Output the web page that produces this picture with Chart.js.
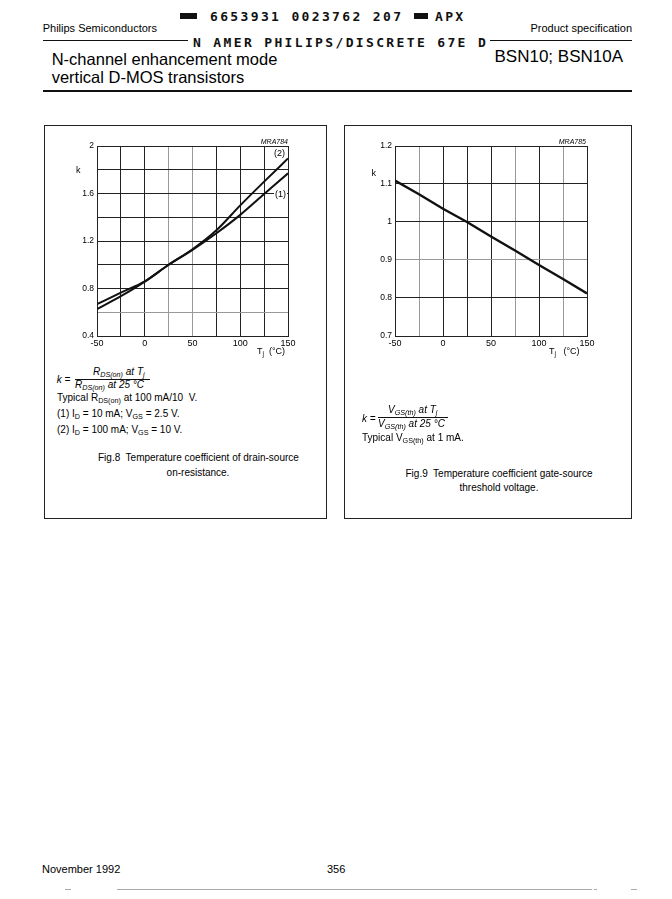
<!DOCTYPE html>
<html>
<head>
<meta charset="utf-8">
<script src="https://cdn.jsdelivr.net/npm/chart.js@4/dist/chart.umd.min.js"></script>
<style>
  body { margin: 0; background: #fff; }
  #page { position: relative; width: 672px; height: 899px; overflow: hidden; font-family: "Liberation Sans", Arial, sans-serif; color: #000; }
  .t { position: absolute; white-space: nowrap; line-height: 1; font-size: 10px; }
  .mono { font-family: "DejaVu Sans Mono", monospace; font-size: 13px; font-weight: bold; letter-spacing: 2.35px; color: #111; }
  .rule { position: absolute; background: #111; }
  .sq { position: absolute; background: #111; }
  .box { position: absolute; border: 1.5px solid #222; box-sizing: border-box; }
  .it { font-style: italic; }
  .c { text-align: center; }
  sub { font-size: 0.72em; line-height: 0; vertical-align: -0.28em; }
  canvas { position: absolute; }
</style>
</head>
<body>
<div id="page">
  <!-- header -->
  <div class="sq" style="left:180px;top:12.7px;width:17px;height:6px"></div>
  <div class="t mono" style="left:210px;top:9.5px">6653931 0023762 207</div>
  <div class="sq" style="left:414px;top:12.7px;width:14px;height:6px"></div>
  <div class="t mono" style="left:435px;top:9.5px">APX</div>
  <div class="t" style="left:42.7px;top:22.6px;font-size:11px">Philips Semiconductors</div>
  <div class="t" style="right:40px;top:22.6px;font-size:11px">Product specification</div>
  <div class="rule" style="left:42.7px;top:40.2px;width:145px;height:1.2px"></div>
  <div class="t mono" style="left:193px;top:35.7px">N AMER PHILIPS/DISCRETE 67E D</div>
  <div class="rule" style="left:490px;top:40.2px;width:142px;height:1.2px"></div>
  <div class="t" style="left:51.7px;top:51px;font-size:16.5px">N-channel enhancement mode</div>
  <div class="t" style="left:51.7px;top:69px;font-size:16.5px">vertical D-MOS transistors</div>
  <div class="t" style="right:49px;top:47.5px;font-size:17px">BSN10; BSN10A</div>
  <div class="rule" style="left:42.7px;top:89.7px;width:589.3px;height:2px"></div>

  <!-- left figure -->
  <div class="box" style="left:44px;top:125px;width:283px;height:394px"></div>
  <canvas id="fig8" width="260" height="230" style="left:50px;top:130px;width:260px;height:230px"></canvas>
  <div class="t it" style="right:384px;top:137.5px;font-size:7px">MRA784</div>
  <div class="t" style="left:76px;top:165.5px;font-size:9px">k</div>
  <div class="t" style="left:273px;top:148.5px;font-size:9px;background:#fff;padding:0 1px">(2)</div>
  <div class="t" style="left:274px;top:189.5px;font-size:9px;background:#fff;padding:0 1px">(1)</div>
  <div class="t" style="left:257px;top:346.5px;font-size:9px">T<sub>j</sub>&nbsp; (°C)</div>

  <div class="t it" style="left:56.7px;top:374.5px">k =</div>
  <div class="t it" style="left:93px;top:367px">R<sub>DS(on)</sub> at T<sub>j</sub></div>
  <div class="rule" style="left:75px;top:378.7px;width:75px;height:0.9px"></div>
  <div class="t it" style="left:75px;top:379.8px">R<sub>DS(on)</sub> at 25 °C</div>
  <div class="t" style="left:57px;top:392.5px">Typical R<sub>DS(on)</sub> at 100 mA/10&nbsp; V.</div>
  <div class="t" style="left:57px;top:409px">(1) I<sub>D</sub> = 10 mA; V<sub>GS</sub> = 2.5 V.</div>
  <div class="t" style="left:57px;top:425px">(2) I<sub>D</sub> = 100 mA; V<sub>GS</sub> = 10 V.</div>
  <div class="t c" style="left:98px;width:200px;top:452.5px">Fig.8&nbsp; Temperature coefficient of drain-source</div>
  <div class="t c" style="left:98px;width:200px;top:467.5px">on-resistance.</div>

  <!-- right figure -->
  <div class="box" style="left:344px;top:125px;width:288px;height:394px"></div>
  <canvas id="fig9" width="260" height="230" style="left:350px;top:130px;width:260px;height:230px"></canvas>
  <div class="t it" style="right:86px;top:137.5px;font-size:7px">MRA785</div>
  <div class="t" style="left:371.5px;top:168.5px;font-size:9px">k</div>
  <div class="t" style="left:549px;top:347px;font-size:9px">T<sub>j</sub>&nbsp;&nbsp; (°C)</div>

  <div class="t it" style="left:362px;top:413.5px">k =</div>
  <div class="t it" style="left:388px;top:405px">V<sub>GS(th)</sub> at T<sub>j</sub></div>
  <div class="rule" style="left:378px;top:417.2px;width:70px;height:0.9px"></div>
  <div class="t it" style="left:378px;top:419px">V<sub>GS(th)</sub> at 25 °C</div>
  <div class="t" style="left:362px;top:433px">Typical V<sub>GS(th)</sub> at 1 mA.</div>
  <div class="t c" style="left:399px;width:200px;top:468.5px">Fig.9&nbsp; Temperature coefficient gate-source</div>
  <div class="t c" style="left:399px;width:200px;top:482.5px">threshold voltage.</div>

  <!-- footer -->
  <div class="t" style="left:42px;top:863.6px;font-size:11px">November 1992</div>
  <div class="t" style="left:327px;top:863.6px;font-size:11px">356</div>
  <div class="rule" style="left:117px;top:889px;width:475px;height:1px;background:#aaa"></div>
  <div class="rule" style="left:65px;top:889px;width:6px;height:1px;background:#aaa"></div>
  <div class="rule" style="left:594px;top:889px;width:3px;height:1px;background:#aaa"></div>
  <div class="rule" style="left:631px;top:889px;width:6px;height:1px;background:#aaa"></div>
</div>

<script>
// junction temperature, deg C
const temps = [-50, -25, 0, 25, 50, 75, 100, 125, 150];
// Fig.8: k = RDS(on) at Tj / RDS(on) at 25 C
const kRds1 = [0.668, 0.765, 0.86, 1.0, 1.125, 1.265, 1.42, 1.595, 1.77]; // (1) ID = 10 mA; VGS = 2.5 V
const kRds2 = [0.626, 0.735, 0.858, 1.0, 1.13, 1.29, 1.5, 1.7, 1.895];   // (2) ID = 100 mA; VGS = 10 V
// Fig.9: k = VGS(th) at Tj / VGS(th) at 25 C
const kVgs = [1.109, 1.073, 1.035, 1.0, 0.962, 0.925, 0.887, 0.85, 0.812];

const xTickLabels = [-50, 0, 50, 100, 150];
const yTickLabels8 = [0.4, 0.8, 1.2, 1.6, 2];
const yTickLabels9 = [0.7, 0.8, 0.9, 1, 1.1, 1.2];

const has = (list, v) => list.some((t) => Math.abs(t - v) < 1e-6);
const points = (ys) => temps.map((t, i) => ({ x: t, y: ys[i] }));

function scales(yMin, yMax, yStep, yLabels, yWidth, lightX, lightY) {
  return {
    x: {
      type: 'linear',
      min: -50,
      max: 150,
      border: { color: '#222', width: 1 },
      grid: {
        drawTicks: false,
        color: (c) => (c.tick && has(lightX, c.tick.value) ? '#999' : '#222'),
      },
      ticks: {
        stepSize: 25,
        padding: 2,
        color: '#000',
        font: { family: 'Liberation Sans', size: 9 },
        maxRotation: 0,
        autoSkip: false,
        callback: (v) => (has(xTickLabels, v) ? String(v) : ''),
      },
      afterFit: (s) => {
        s.height = 14;
        s.paddingLeft = 0;
        s.paddingRight = 0;
      },
    },
    y: {
      min: yMin,
      max: yMax,
      border: { color: '#222', width: 1 },
      grid: {
        drawTicks: false,
        color: (c) => (c.tick && has(lightY, c.tick.value) ? '#999' : '#222'),
      },
      ticks: {
        stepSize: yStep,
        padding: 3,
        color: '#000',
        font: { family: 'Liberation Sans', size: 8.5 },
        autoSkip: false,
        callback: (v) => (has(yLabels, v) ? String(Math.round(v * 10) / 10) : ''),
      },
      afterFit: (s) => {
        s.width = yWidth;
        s.paddingTop = 0;
        s.paddingBottom = 0;
      },
    },
  };
}

new Chart(document.getElementById('fig8').getContext('2d'), {
  type: 'line',
  data: {
    datasets: [
      { label: '(1)', data: points(kRds1), borderColor: '#111', borderWidth: 2, pointRadius: 0, cubicInterpolationMode: 'monotone' },
      { label: '(2)', data: points(kRds2), borderColor: '#111', borderWidth: 2, pointRadius: 0, cubicInterpolationMode: 'monotone' },
    ],
  },
  options: {
    responsive: false,
    animation: false,
    layout: { padding: { top: 16, right: 22, bottom: 10, left: 0 } },
    plugins: { legend: { display: false }, tooltip: { enabled: false } },
    scales: scales(0.4, 2, 0.2, yTickLabels8, 47, [25, 50], [0.6]),
  },
});

new Chart(document.getElementById('fig9').getContext('2d'), {
  type: 'line',
  data: {
    datasets: [
      { label: 'k', data: points(kVgs), borderColor: '#111', borderWidth: 2.4, pointRadius: 0 },
    ],
  },
  options: {
    responsive: false,
    animation: false,
    layout: { padding: { top: 16, right: 23, bottom: 10, left: 0 } },
    plugins: { legend: { display: false }, tooltip: { enabled: false } },
    scales: scales(0.7, 1.2, 0.1, yTickLabels9, 45, [-25, 75, 125], [0.9]),
  },
});
</script>
</body>
</html>
